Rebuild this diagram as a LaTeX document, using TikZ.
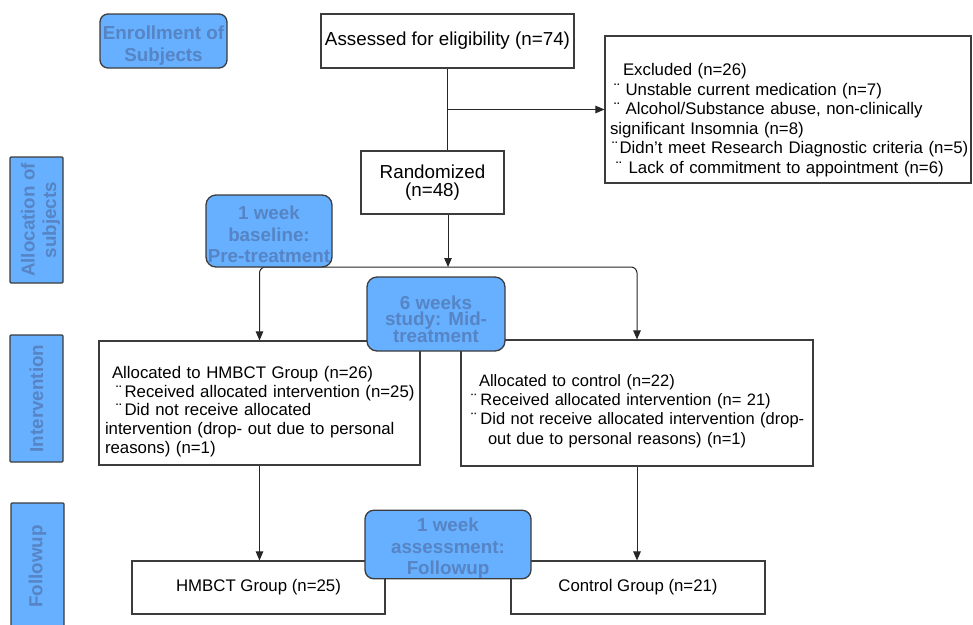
\documentclass[tikz,border=0pt]{standalone}
\usepackage{fontspec}
\setmainfont{Liberation Sans}
\usetikzlibrary{arrows.meta}
\definecolor{bluefill}{RGB}{102,176,255}
\definecolor{bluetext}{RGB}{86,132,196}
\definecolor{edgegray}{RGB}{60,60,60}
\begin{document}
\begin{tikzpicture}[x=1pt,y=-1pt,
  box/.style={draw=edgegray, line width=1.1pt, fill=white, inner sep=0pt},
  bluebox/.style={draw=edgegray, line width=1.3pt, fill=bluefill, rounded corners=8pt,
    text=bluetext, font=\fontsize{18.8}{21.5}\selectfont\bfseries, align=center, inner sep=0pt},
  sidebox/.style={bluebox, rounded corners=1pt, rotate=90, minimum height=53},
  conn/.style={draw=black!85, line width=1pt},
  arr/.style={conn, -{Triangle[length=9pt,width=7.5pt]}},
  bigtxt/.style={font=\fontsize{18.8}{18}\selectfont},
  smalltxt/.style={font=\fontsize{16.8}{19.5}\selectfont}
]
\useasboundingbox (0,0) rectangle (973,624);

% regular boxes
\node[box, bigtxt, minimum width=253, minimum height=54] (assess) at (447.5,41) {Assessed for eligibility (n=74)};
\node[box, bigtxt, align=center, minimum width=143, minimum height=63] (rand) at (432.5,182.5) {Randomized\\(n=48)};
\node[box, smalltxt, inner xsep=2pt, text width=362pt, align=left, minimum height=147] (excl) at (788,109.5)
  {\rule{0pt}{33pt}\hspace{16pt}Excluded (n=26)\\
   \hspace{7pt}¨\hspace{6pt}Unstable current medication (n=7)\\
   \hspace{7pt}¨\hspace{6pt}Alcohol/Substance abuse, non-clinically\\
   \hspace{3pt}significant Insomnia (n=8)\\
   \hspace{5pt}¨\hspace{2pt}Didn't meet Research Diagnostic criteria (n=5)\\
   \hspace{9pt}¨\hspace{7pt}Lack of commitment to appointment (n=6)};
\node[box, font=\fontsize{16.8}{18.7}\selectfont, inner xsep=4pt, text width=313pt, align=left, minimum height=124] (hmb) at (259.5,403)
  {\rule{0pt}{29pt}\hspace{9pt}Allocated to HMBCT Group (n=26)\\
   \hspace{13pt}¨\hspace{3pt}Received allocated intervention (n=25)\\
   \hspace{13pt}¨\hspace{3pt}Did not receive allocated\\
   \hspace{2pt}\makebox[303pt][s]{intervention (drop- out due to personal}\\
   \hspace{2pt}reasons) (n=1)};
\node[box, font=\fontsize{16.5}{19.3}\selectfont, inner xsep=4pt, text width=344pt, align=left, minimum height=126] (ctl) at (637,403)
  {\rule{0pt}{28pt}\hspace{14pt}Allocated to control (n=22)\\
   \hspace{6pt}¨\hspace{4pt}Received allocated intervention (n= 21)\\
   \mbox{\hspace{6pt}¨\hspace{4pt}Did not receive allocated intervention (drop-}\\
   \hspace{23pt}out due to personal reasons) (n=1)};
\node[box, smalltxt, minimum width=253, minimum height=53] (hgrp) at (258.5,587.5) {HMBCT Group (n=25)};
\node[box, smalltxt, minimum width=254, minimum height=53] (cgrp) at (638,587.5) {Control Group (n=21)};

% connectors
\coordinate (split) at (448,267);
\draw[conn] (assess.south) -- (assess.south |- rand.north);
\draw[arr] (assess.south |- excl.west) -- (excl.west);
\draw[arr] (rand.south -| split) -- (split);
\draw[arr, rounded corners=6pt] (split) -- (split -| hmb.north) -- (hmb.north);
\draw[arr, rounded corners=6pt] (split) -- (split -| ctl.north) -- (ctl.north);
\draw[arr] (hmb.south) -- (hmb.south |- hgrp.north);
\draw[arr] (ctl.south) -- (ctl.south |- cgrp.north);

% blue stage boxes
\node[bluebox, minimum width=127, minimum height=54] (enroll) at (163.5,41) {\rule{0pt}{22.7pt}Enrollment of\\Subjects};
\node[bluebox, minimum width=126, minimum height=72, rounded corners=10pt] (base) at (269,231) {\rule{0pt}{20.7pt}1 week\\baseline:\\Pre-treatment};
\node[bluebox, minimum width=138, minimum height=74, rounded corners=10pt, font=\fontsize{18.8}{16}\selectfont\bfseries] (mid) at (436,314) {\rule{0pt}{24.7pt}6 weeks\\study: Mid-\\treatment};
\node[bluebox, minimum width=166, minimum height=65, rounded corners=9pt] (fup) at (448,544.5) {\rule{0pt}{21.7pt}1 week\\assessment:\\Followup};

% side labels
\node[sidebox, minimum width=126] (alloc) at (36.5,220) {\rule{0pt}{21.7pt}Allocation of\\subjects};
\node[sidebox, minimum width=127] (interv) at (36.5,398.5) {Intervention};
\node[sidebox, minimum width=127] (follow) at (37.5,566.5) {Followup};
\end{tikzpicture}
\end{document}
